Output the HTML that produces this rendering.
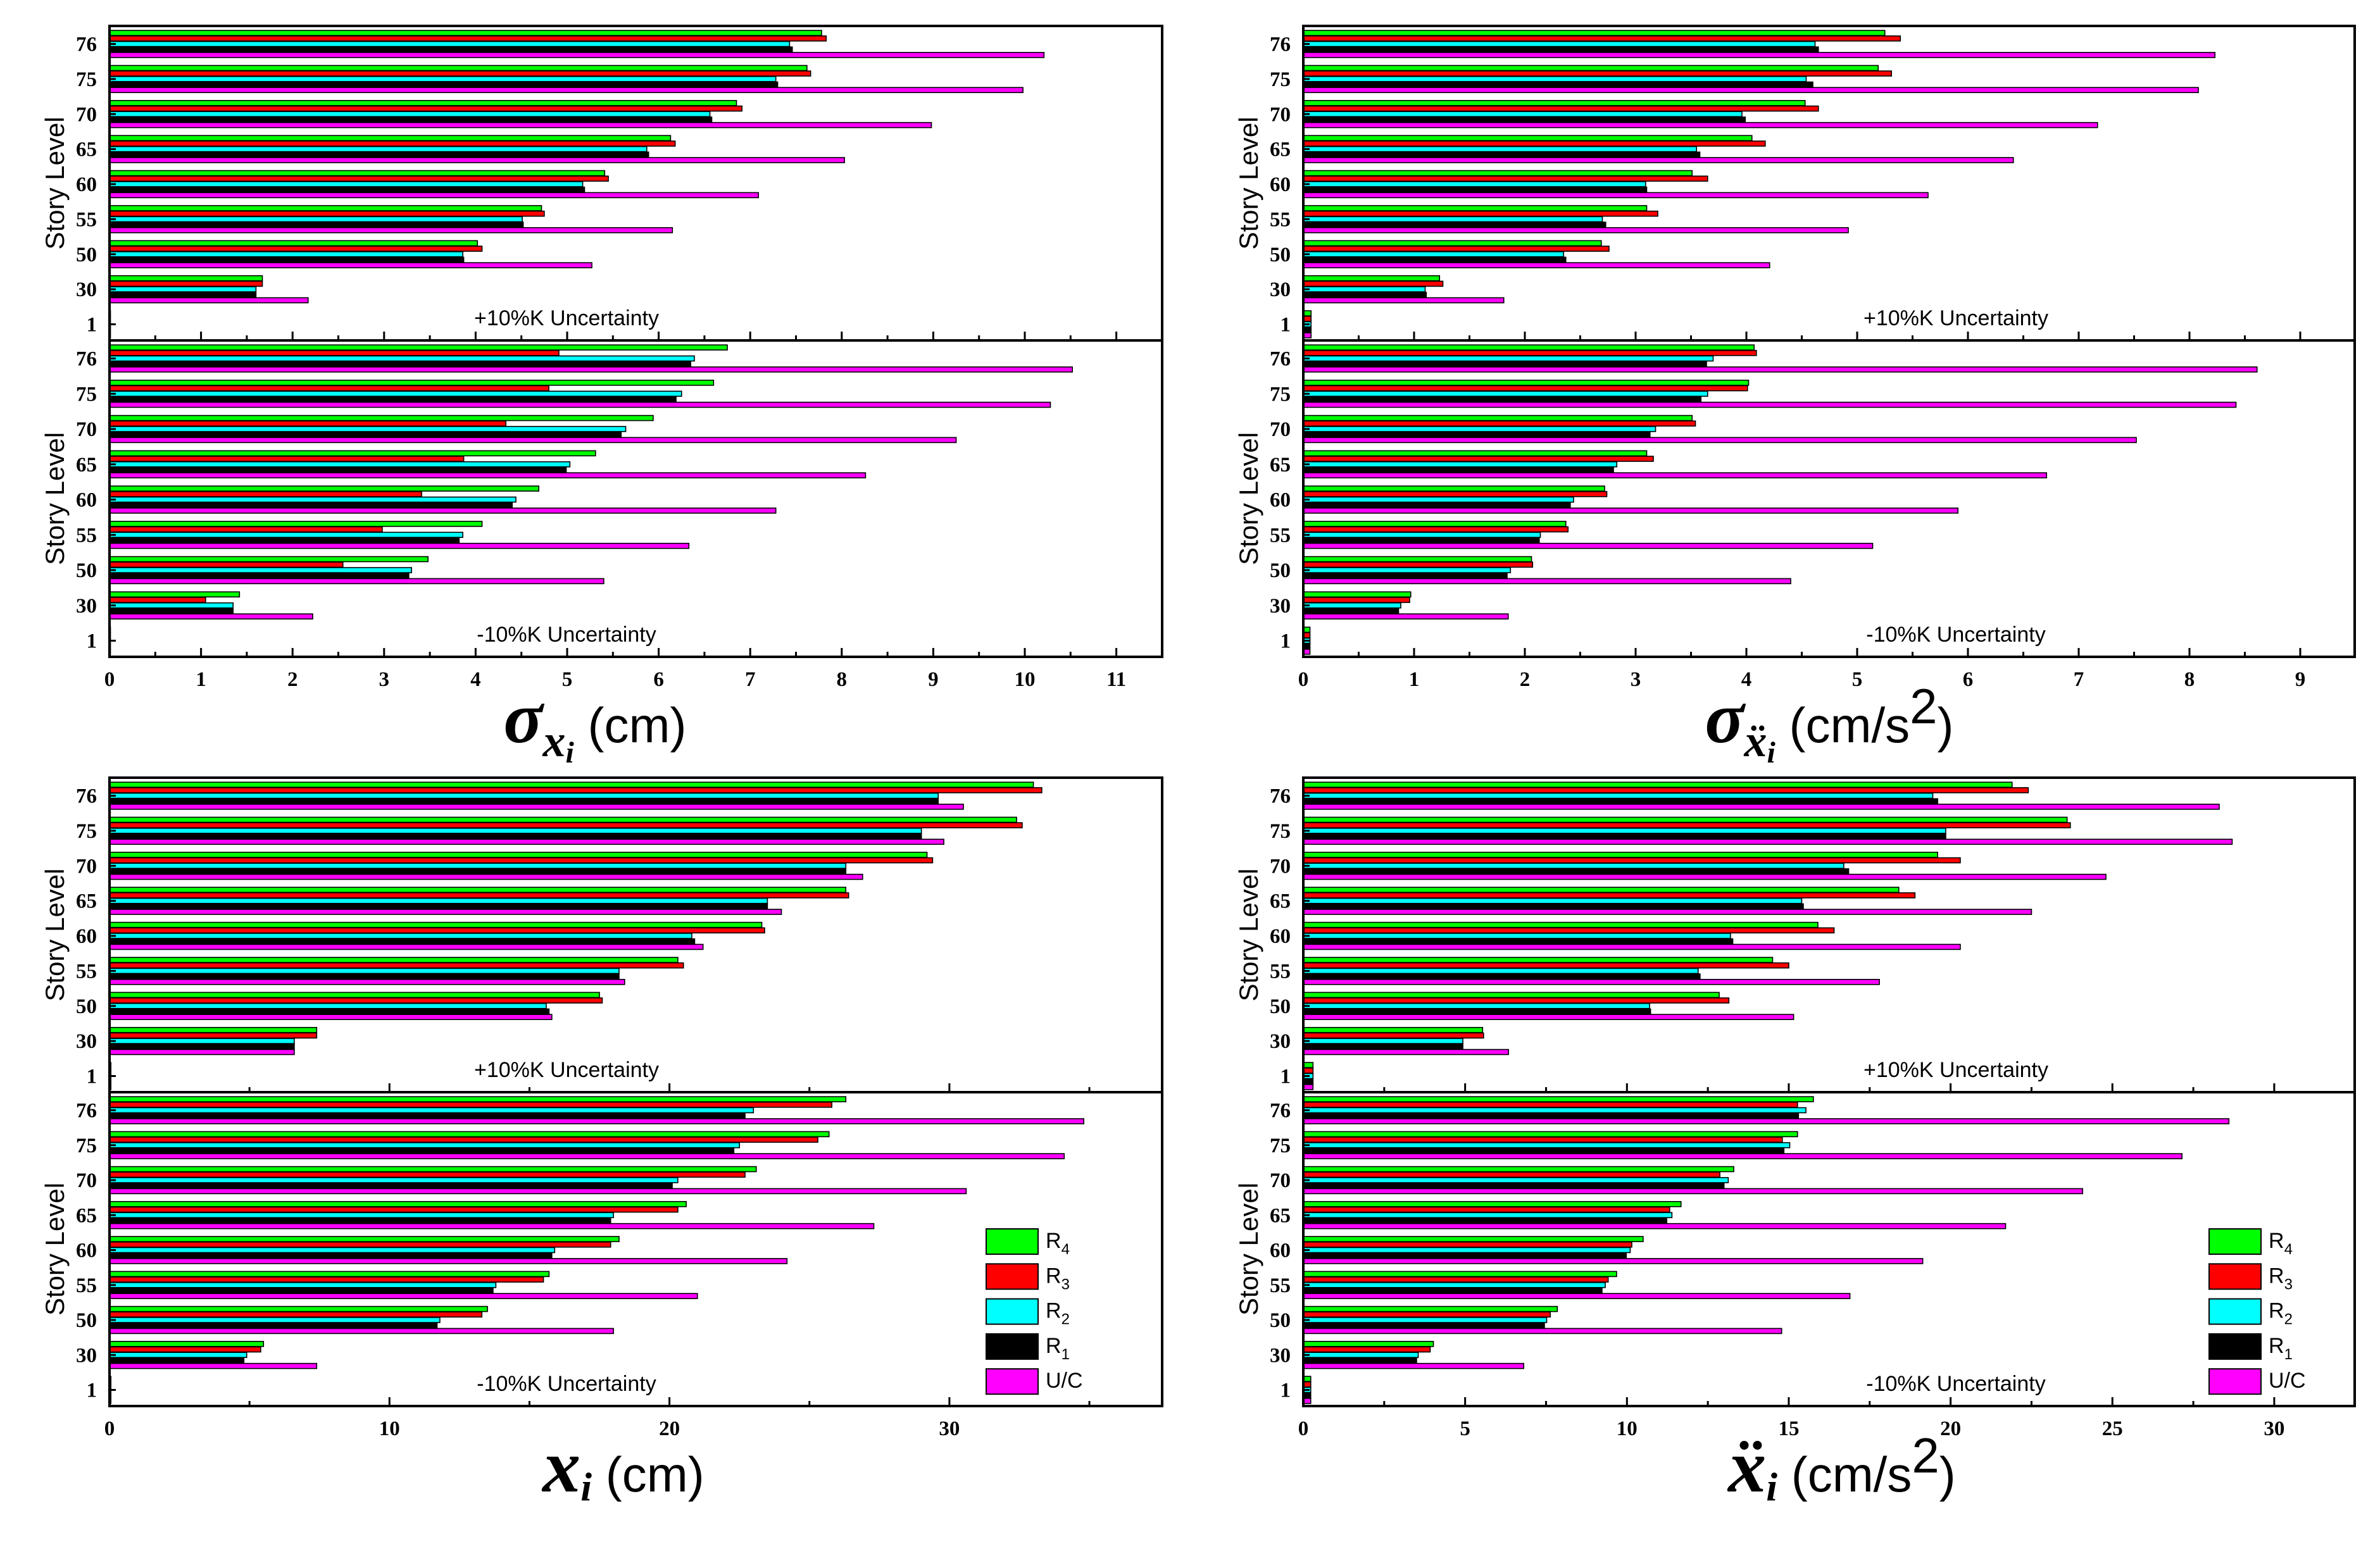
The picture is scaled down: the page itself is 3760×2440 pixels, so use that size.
<!DOCTYPE html>
<html><head><meta charset="utf-8"><style>
html,body{margin:0;padding:0;background:#fff;}
svg{display:block;}
.tk{font-family:"Liberation Serif",serif;font-weight:bold;font-size:33px;fill:#000;}
.sl{font-family:"Liberation Sans",sans-serif;font-size:42px;fill:#000;}
.unc{font-family:"Liberation Sans",sans-serif;font-size:34px;fill:#000;}
.lg{font-family:"Liberation Sans",sans-serif;font-size:34px;fill:#000;}
.ttl{font-family:"Liberation Sans",sans-serif;font-size:78px;fill:#000;}
.sym{font-family:"Liberation Serif",serif;font-weight:bold;font-style:italic;fill:#000;}
</style></head><body>
<svg id="chart" width="3760" height="2440" viewBox="0 0 3760 2440" xmlns="http://www.w3.org/2000/svg"></svg>
<script>
const levels = ["76","75","70","65","60","55","50","30","1"];
const seriesNames = ["R4","R3","R2","R1","U/C"];
const seriesColors = ["#00ff00","#ff0000","#00ffff","#000000","#ff00ff"];
// sigma x (cm)
const sxPlus = {
 R4:[7.78,7.62,6.85,6.13,5.41,4.72,4.02,1.67,0.01],
 R3:[7.83,7.66,6.91,6.18,5.45,4.75,4.07,1.67,0.01],
 R2:[7.43,7.28,6.56,5.87,5.17,4.51,3.86,1.60,0.01],
 R1:[7.46,7.30,6.58,5.89,5.19,4.52,3.87,1.60,0.01],
 UC:[10.21,9.98,8.98,8.03,7.09,6.15,5.27,2.17,0.01]};
const sxMinus = {
 R4:[6.75,6.60,5.94,5.31,4.69,4.07,3.48,1.42,0.01],
 R3:[4.91,4.80,4.33,3.87,3.41,2.98,2.55,1.05,0.01],
 R2:[6.39,6.25,5.64,5.03,4.44,3.86,3.30,1.35,0.01],
 R1:[6.35,6.19,5.59,4.99,4.40,3.82,3.27,1.35,0.01],
 UC:[10.52,10.28,9.25,8.26,7.28,6.33,5.40,2.22,0.01]};
// sigma accel
const saPlus = {
 R4:[5.25,5.19,4.53,4.05,3.51,3.10,2.69,1.23,0.07],
 R3:[5.39,5.31,4.65,4.17,3.65,3.20,2.76,1.26,0.07],
 R2:[4.62,4.54,3.96,3.55,3.09,2.70,2.35,1.10,0.07],
 R1:[4.65,4.60,3.99,3.58,3.10,2.73,2.37,1.11,0.07],
 UC:[8.23,8.08,7.17,6.41,5.64,4.92,4.21,1.81,0.07]};
const saMinus = {
 R4:[4.07,4.02,3.51,3.10,2.72,2.37,2.06,0.97,0.06],
 R3:[4.09,4.01,3.54,3.16,2.74,2.39,2.07,0.96,0.06],
 R2:[3.70,3.65,3.18,2.83,2.44,2.14,1.87,0.88,0.06],
 R1:[3.64,3.59,3.13,2.80,2.41,2.13,1.84,0.86,0.06],
 UC:[8.61,8.42,7.52,6.71,5.91,5.14,4.40,1.85,0.06]};
// peak displacement
const xPlus = {
 R4:[33.0,32.4,29.2,26.3,23.3,20.3,17.5,7.4,0.05],
 R3:[33.3,32.6,29.4,26.4,23.4,20.5,17.6,7.4,0.05],
 R2:[29.6,29.0,26.3,23.5,20.8,18.2,15.6,6.6,0.05],
 R1:[29.6,29.0,26.3,23.5,20.9,18.2,15.7,6.6,0.05],
 UC:[30.5,29.8,26.9,24.0,21.2,18.4,15.8,6.6,0.05]};
const xMinus = {
 R4:[26.3,25.7,23.1,20.6,18.2,15.7,13.5,5.5,0.05],
 R3:[25.8,25.3,22.7,20.3,17.9,15.5,13.3,5.4,0.05],
 R2:[23.0,22.5,20.3,18.0,15.9,13.8,11.8,4.9,0.05],
 R1:[22.7,22.3,20.1,17.9,15.8,13.7,11.7,4.8,0.05],
 UC:[34.8,34.1,30.6,27.3,24.2,21.0,18.0,7.4,0.05]};
// peak acceleration
const aPlus = {
 R4:[21.9,23.6,19.6,18.4,15.9,14.5,12.85,5.54,0.3],
 R3:[22.4,23.7,20.3,18.9,16.4,15.0,13.15,5.57,0.3],
 R2:[19.45,19.85,16.7,15.4,13.2,12.2,10.7,4.93,0.3],
 R1:[19.6,19.85,16.85,15.45,13.27,12.26,10.73,4.93,0.3],
 UC:[28.3,28.7,24.8,22.5,20.3,17.8,15.15,6.34,0.3]};
const aMinus = {
 R4:[15.76,15.27,13.3,11.67,10.5,9.68,7.85,4.02,0.23],
 R3:[15.27,14.8,12.87,11.32,10.15,9.42,7.63,3.92,0.23],
 R2:[15.53,15.03,13.13,11.39,10.1,9.33,7.52,3.55,0.23],
 R1:[15.3,14.85,13.0,11.23,9.98,9.23,7.45,3.5,0.23],
 UC:[28.6,27.15,24.08,21.7,19.14,16.89,14.78,6.81,0.23]};
const ticksLeftTop = [0,1,2,3,4,5,6,7,8,9,10,11];
const ticksRightTop = [0,1,2,3,4,5,6,7,8,9];
const ticksBottom = [0,10,20,30];
const ticksBottomR = [0,5,10,15,20,25,30];

const NS="http://www.w3.org/2000/svg";
const svg=document.getElementById('chart');
function mk(tag,attrs,parent){const e=document.createElementNS(NS,tag);for(const k in attrs)e.setAttribute(k,attrs[k]);(parent||svg).appendChild(e);return e;}

function panel(cfg){
  const g=mk('g',{});
  
  
  const x0=cfg.x0,x1=cfg.x1,top=cfg.top,mid=cfg.mid,bot=cfg.bot;
  const sx=v=>x0+v*cfg.ppu;
  const keys=["R4","R3","R2","R1","UC"];
  [[cfg.plus,top,mid,"+10%K Uncertainty"],[cfg.minus,mid,bot,"-10%K Uncertainty"]].forEach(([data,t,b,lbl],si)=>{
    const sub=mk('g',{},g);
    
    
    const yc=i=>t+28.5+i*((b-t-54)/8);
    levels.forEach((lv,i)=>{
      keys.forEach((k,j)=>{
        const y=yc(i)+(j-2)*8.7-4;
        const w=Math.max(sx(data[k][i])-x0,1.5);
        const r=mk('rect',{x:x0,y:y,width:w,height:8,fill:seriesColors[j],stroke:'#000','stroke-width':1.6},sub);
        
        
      });
      mk('line',{x1:x0,x2:x0+10,y1:yc(i),y2:yc(i),stroke:'#000','stroke-width':3},sub);
      const tl=mk('text',{x:x0-20,y:yc(i)+11,'text-anchor':'end',class:'tk'},sub);
      tl.textContent=lv;
      
      
    });
    const maj=cfg.ticks, step=maj[1]-maj[0];
    for(let v=0; sx(v)<x1; v+=step/2){
      const isMaj=Math.abs((v/step)-Math.round(v/step))<1e-6;
      mk('line',{x1:sx(v),x2:sx(v),y1:b,y2:b-(isMaj?14:8),stroke:'#000','stroke-width':3},sub);
    }
    const ut=mk('text',{x:cfg.uncX,y:b-24,'text-anchor':'middle',class:'unc'},sub);
    ut.textContent=lbl;
    
    
    const st=mk('text',{x:0,y:0,'text-anchor':'middle',class:'sl',transform:`translate(${x0-72},${(t+b)/2}) rotate(-90)`},sub);
    st.textContent='Story Level';
    
    
  });
  mk('rect',{x:x0,y:top,width:x1-x0,height:bot-top,fill:'none',stroke:'#000','stroke-width':4},g);
  mk('line',{x1:x0,x2:x1,y1:mid,y2:mid,stroke:'#000','stroke-width':4},g);
  cfg.ticks.forEach(v=>{
    const t=mk('text',{x:sx(v),y:bot+46,'text-anchor':'middle',class:'tk'},g);
    t.textContent=v;
    
    
  });
  const at=mk('text',{x:cfg.titleX,y:bot+135,'text-anchor':'middle'},g);
  
  
  at.innerHTML=cfg.title;
  if(cfg.legend){
    const lg=mk('g',{},g);
    
    
    const labs=[["R","4"],["R","3"],["R","2"],["R","1"],["U/C",""]];
    const cols=["#00ff00","#ff0000","#00ffff","#000000","#ff00ff"];
    labs.forEach((l,j)=>{
      const y=1962+j*55.3;
      const e=mk('g',{},lg);
      
      
      mk('rect',{x:cfg.legend,y:y-20,width:82,height:40,fill:cols[j],stroke:'#000','stroke-width':2},e);
      const tx=mk('text',{x:cfg.legend+94,y:y+10,class:'lg'},e);
      tx.innerHTML=l[1]?`${l[0]}<tspan font-size="24" dy="10">${l[1]}</tspan>`:l[0];
    });
  }
}
panel({name:'panel-sigma-displacement',x0:173,x1:1836,top:41,mid:538,bot:1038,ppu:144.6,ticks:ticksLeftTop,plus:sxPlus,minus:sxMinus,uncX:895,titleX:940,
 title:'<tspan class="sym" font-size="115">σ</tspan><tspan class="sym" font-size="72" dy="22">x</tspan><tspan class="sym" font-size="48" dy="10">i</tspan><tspan class="ttl" dy="-32"> (cm)</tspan>'});
panel({name:'panel-sigma-acceleration',x0:2059,x1:3720,top:41,mid:538,bot:1038,ppu:175.0,ticks:ticksRightTop,plus:saPlus,minus:saMinus,uncX:3090,titleX:2890,
 title:'<tspan class="sym" font-size="115">σ</tspan><tspan class="sym" font-size="72" dy="22">ẍ</tspan><tspan class="sym" font-size="48" dy="10">i</tspan><tspan class="ttl" dy="-32"> (cm/s</tspan><tspan class="ttl" font-size="50" dy="-30">2</tspan><tspan class="ttl" dy="30">)</tspan>'});
panel({name:'panel-peak-displacement',x0:173,x1:1836,top:1229,mid:1726,bot:2222,ppu:44.23,ticks:ticksBottom,plus:xPlus,minus:xMinus,uncX:895,titleX:985,legend:1558,
 title:'<tspan class="sym" font-size="120">x</tspan><tspan class="sym" font-size="64" dy="14">i</tspan><tspan class="ttl" dy="-14"> (cm)</tspan>'});
panel({name:'panel-peak-acceleration',x0:2059,x1:3720,top:1229,mid:1726,bot:2222,ppu:51.13,ticks:ticksBottomR,plus:aPlus,minus:aMinus,uncX:3090,titleX:2910,legend:3490,
 title:'<tspan class="sym" font-size="120">ẍ</tspan><tspan class="sym" font-size="64" dy="14">i</tspan><tspan class="ttl" dy="-14"> (cm/s</tspan><tspan class="ttl" font-size="50" dy="-30">2</tspan><tspan class="ttl" dy="30">)</tspan>'});
</script>
</body></html>
